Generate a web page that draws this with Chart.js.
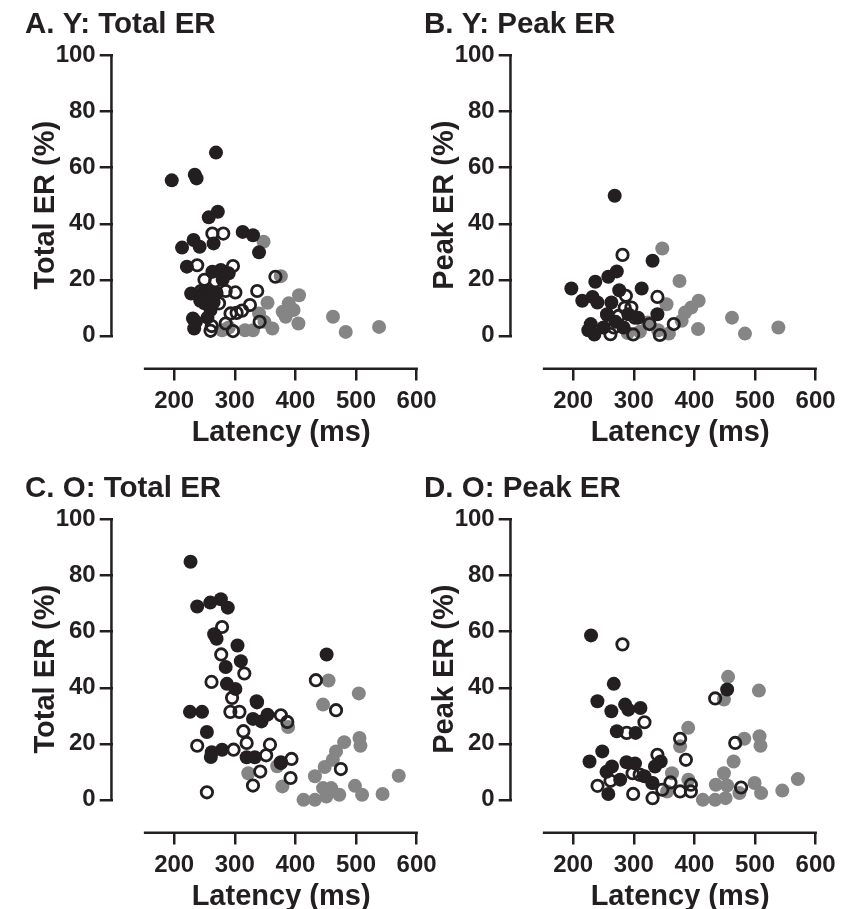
<!DOCTYPE html>
<html><head><meta charset="utf-8">
<script src="https://cdn.jsdelivr.net/npm/chart.js@4.4.1/dist/chart.umd.min.js"></script>
<style>
html,body{margin:0;padding:0;background:#fff;overflow:hidden;width:847px;height:909px;}
#wrap{position:relative;width:847px;height:909px;overflow:hidden;}
canvas{position:absolute;}
</style></head><body><div id="wrap">
<canvas id="cA" width="458" height="450" style="left:0px;top:0px"></canvas>
<canvas id="cB" width="458" height="450" style="left:399px;top:0px"></canvas>
<canvas id="cC" width="458" height="450" style="left:0px;top:464px"></canvas>
<canvas id="cD" width="458" height="450" style="left:399px;top:464px"></canvas>
</div>
<script>
// ---- tick labels / text ----
const xTickVals = [200, 300, 400, 500, 600];
const yTickVals = [0, 20, 40, 60, 80, 100];
const panelTitles = ['A. Y: Total ER', 'B. Y: Peak ER', 'C. O: Total ER', 'D. O: Peak ER'];
const yTitles = ['Total ER (%)', 'Peak ER (%)', 'Total ER (%)', 'Peak ER (%)'];
const xTitle = 'Latency (ms)';

// ---- data: [latency ms, ER %] ----
const aBlack = [[196,55.5],[234,57.5],[237,56.2],[269,65.4],[272,44.3],[257,42.3],[313,37.1],[330,35.9],[340,29.8],[265,33],[232,34.2],[242,31.8],[213,31.5],[221,24.7],[263,22.9],[277,23.5],[290,22.3],[228,15.1],[247,15.4],[258,15.7],[270,15.3],[250,11.6],[231,6.2],[233,2.6],[260,9.2],[255,6.5],[243,12.5],[265,12],[280,20],[236,5]];
const aOpen = [[263,36.5],[281,36.5],[238,25.2],[297,24.9],[301,15.5],[337,16],[367,21.1],[274,11.6],[325,11],[293,8],[303,8.2],[341,5],[260,1.8],[297,1.7],[285,4.4],[262,3.5],[268,19.5],[250,20],[312,9],[244,16],[285,16]];
const aGray = [[347.5,33.6],[376,21.3],[406,14.5],[354,11.8],[389,11.6],[397,9.2],[384,6.8],[405,4.4],[462,6.8],[483,1.4],[538,3.2],[349,5],[362,2.6],[330,2],[317,2],[279,2],[379,8.6],[290,3],[340,8]];

const bBlack = [[268.5,50],[331,26.8],[197,16.9],[236.5,19.3],[258,21.1],[272,23],[276,16.3],[313,16.9],[215,12.5],[232,13.9],[240,11.9],[263,11.9],[339,7.7],[229,4.2],[235,0.5],[256,7.7],[270,5],[291,7.7],[307,6.5],[250,3],[225,2],[283,3]];
const bOpen = [[281.4,28.9],[339,13.9],[287,14.3],[296,10.1],[256,7.5],[326,4.2],[366,4.2],[302,6.5],[261.5,0.6],[299,0.5],[343,0.3],[275,7.1],[267,3],[285,10]];
const bGray = [[347,31.2],[375.4,19.6],[407,12.5],[395,10.1],[384.5,8.3],[354,11.3],[406,2.4],[462,6.5],[483.4,0.8],[538.5,3],[379,5.4],[358,0.8],[323,4.8],[340,2],[310,1.5],[290,1]];

const cBlack = [[227,85],[238,69],[259.5,70.4],[277,71.6],[288.5,68.6],[266,59.1],[270,57.5],[304.5,55.1],[310,49.5],[285,47.4],[287,41.4],[301,39.6],[451.5,51.9],[226,31.4],[246,31.4],[254,24.2],[260.5,15.3],[279,17.9],[319.6,15.2],[333,15.2],[336,35.2],[330,28.9],[344,28],[354,30.4],[376,13.1],[262,17]];
const cOpen = [[279,61.7],[277.6,51.9],[315.7,45.1],[261.6,42.1],[295.5,36.4],[292.7,31.4],[307.7,31.4],[336.7,34.8],[376,30.2],[386.6,27.8],[433.8,42.7],[467,32],[314.2,24.5],[319.6,20.3],[238,19.3],[298,17.9],[358,19.7],[351.7,15.9],[376,13.4],[393.6,14.6],[342,10.1],[392,7.8],[330,5.1],[254,2.7],[475,11]];
const cGray = [[454.7,42.6],[504.6,38],[445.6,34],[480.5,20.6],[505.7,22.1],[507.3,19.3],[467,17.3],[461.7,14.3],[448.3,11.7],[432.2,8.4],[570.5,8.6],[388,26],[322.3,9.5],[378.5,4.8],[413.4,0],[432.2,0],[451,1.2],[445.6,4.2],[459,4.2],[472.4,1.8],[498.2,5],[510,1.8],[543.8,2.1],[370,12]];

const dBlack = [[229.5,58.7],[267,41.4],[240,35.2],[285.7,34],[263,31.6],[291,32.2],[311,32.8],[272,24.5],[303,23.9],[248,17.3],[227,13.7],[264,11.9],[288,13.4],[302,13],[277.6,7.2],[258,2.1],[344.4,13.7],[335,11.9],[454,39.4],[317.6,8.4],[331,6],[255,10]];
const dOpen = [[281.3,55.5],[317.6,27.7],[288.3,23.9],[376.4,21.8],[434.2,36.2],[467.3,20.3],[386,14.3],[339,16.1],[240.2,5],[261.6,6.8],[299,2.1],[331,0.6],[347,3.6],[360.5,6.2],[376.4,3],[394.2,5.4],[394.2,3],[477,4.4],[309.7,9],[298,9.5]];
const dGray = [[455.6,43.9],[506.4,39],[448.7,35.8],[389.8,25.7],[482.3,21.8],[507.4,22.7],[509,19.3],[376.4,19.1],[464.7,13.7],[448.7,9.5],[435.3,5.4],[454,5.1],[474.3,2.4],[499.3,6],[510,2.4],[545,3.3],[570.7,7.4],[413.9,0],[434.2,0],[451.3,0.6],[363,9.5],[390,7.2],[330,6],[355,3]];

// ---- styles ----
const INK = '#231f20';
const GRAY = '#858585';
const FONT = "'Liberation Sans', Arial, sans-serif";

const axisLines = {
  id: 'axisLines',
  beforeDatasetsDraw(chart) {
    const {ctx, chartArea, scales} = chart;
    const lw = 2.5;
    ctx.save();
    ctx.strokeStyle = INK;
    ctx.lineWidth = lw;
    ctx.lineCap = 'butt';
    ctx.beginPath();
    const yb = chartArea.bottom + lw / 2;
    ctx.moveTo(scales.x.getPixelForValue(150), yb);
    ctx.lineTo(scales.x.getPixelForValue(600) + lw / 2, yb);
    const xl = chartArea.left - lw / 2;
    ctx.moveTo(xl, scales.y.getPixelForValue(0) + lw / 2);
    ctx.lineTo(xl, scales.y.getPixelForValue(100) - lw / 2);
    ctx.stroke();
    ctx.restore();
  }
};

const toPts = arr => arr.map(p => ({x: p[0], y: p[1]}));

function makeChart(id, title, yTitle, black, open, gray) {
  return new Chart(document.getElementById(id), {
    type: 'scatter',
    data: {
      datasets: [
        {label: 'open', data: toPts(open), pointRadius: 5.7, pointBorderWidth: 2.8,
         pointBorderColor: INK, pointBackgroundColor: 'rgba(255,255,255,0)'},
        {label: 'black', data: toPts(black), pointRadius: 7, pointBorderWidth: 0,
         pointBorderColor: INK, pointBackgroundColor: INK},
        {label: 'gray', data: toPts(gray), pointRadius: 7, pointBorderWidth: 0,
         pointBorderColor: GRAY, pointBackgroundColor: GRAY}
      ]
    },
    options: {
      responsive: false, animation: false, events: [],
      layout: {padding: {left: 25, top: 0, right: 0, bottom: 0}},
      plugins: {
        legend: {display: false}, tooltip: {enabled: false},
        title: {display: true, text: title, align: 'start', color: INK,
          font: {family: FONT, size: 29.5, weight: 'bold', lineHeight: 1.2},
          padding: {top: 7.3, bottom: 0.1}}
      },
      scales: {
        x: {
          type: 'linear', position: 'bottom', min: 98.6, max: 654.2,
          afterBuildTicks: s => { s.ticks = xTickVals.map(v => ({value: v})); },
          afterFit: s => { s.height = 82.5; },
          border: {display: false},
          grid: {display: true, drawOnChartArea: false, drawTicks: true, tickLength: 13, color: INK, lineWidth: 2.5},
          ticks: {color: INK, font: {family: FONT, size: 24, weight: 'bold', lineHeight: 1.2}, padding: 6, maxRotation: 0, autoSkip: false},
          title: {display: true, text: xTitle, color: INK, font: {family: FONT, size: 29, weight: 'bold', lineHeight: 1.2}, padding: {top: 0, bottom: 0}}
        },
        y: {
          type: 'linear', position: 'left', min: -11.3, max: 104.6,
          afterBuildTicks: s => { s.ticks = yTickVals.map(v => ({value: v})); },
          afterFit: s => { s.width = 87.7; },
          border: {display: false},
          grid: {display: true, drawOnChartArea: false, drawTicks: true, tickLength: 13, color: INK, lineWidth: 2.5},
          ticks: {color: INK, font: {family: FONT, size: 24, weight: 'bold', lineHeight: 1.2}, padding: 4, autoSkip: false},
          title: {display: true, text: yTitle, color: INK, font: {family: FONT, size: 29, weight: 'bold', lineHeight: 1.2}, padding: {top: 3.6, bottom: 0}}
        }
      }
    },
    plugins: [axisLines]
  });
}

makeChart('cA', panelTitles[0], yTitles[0], aBlack, aOpen, aGray);
makeChart('cB', panelTitles[1], yTitles[1], bBlack, bOpen, bGray);
makeChart('cC', panelTitles[2], yTitles[2], cBlack, cOpen, cGray);
makeChart('cD', panelTitles[3], yTitles[3], dBlack, dOpen, dGray);
</script>
</body></html>
